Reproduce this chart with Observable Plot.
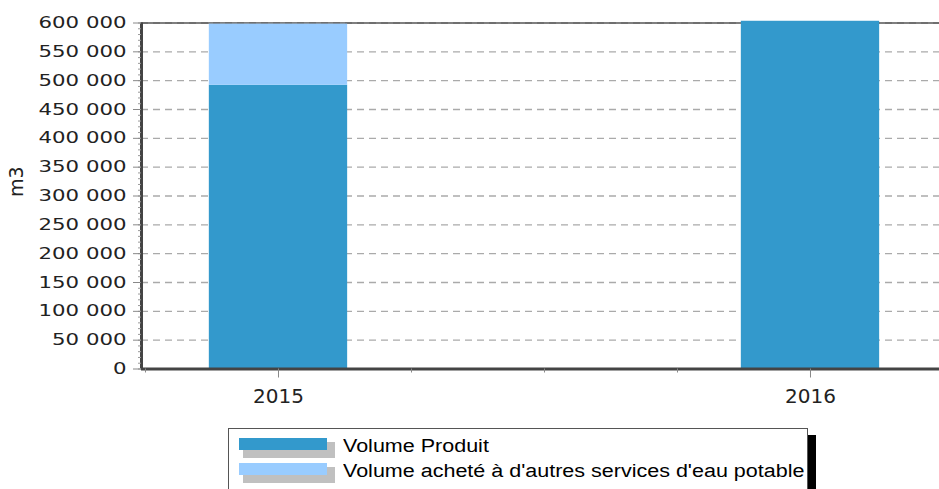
<!DOCTYPE html>
<html>
<head>
<meta charset="utf-8">
<script src="https://cdn.jsdelivr.net/npm/d3@7"></script>
<script src="https://cdn.jsdelivr.net/npm/@observablehq/plot@0.6"></script>
<style>
  body { margin: 0; background: #fff; width: 939px; height: 489px; overflow: hidden; position: relative; font-family: "DejaVu Sans", sans-serif; }
  #chart { position: absolute; left: 0; top: 0; }
  #legend { position: absolute; left: 228px; top: 428px; width: 578px; height: 80px; border: 1px solid #555; background: #fff; box-shadow: 8px 7px 0 #000; overflow: hidden; }
  .sw { position: absolute; width: 88px; height: 12px; }
  .sh { position: absolute; width: 92px; height: 16px; background: #c0c0c0; }
  .lt { position: absolute; font-family: "Liberation Sans", Arial, sans-serif; font-size: 18px; line-height: 18px; white-space: nowrap; transform: scaleX(1.195); transform-origin: 0 0; color: #000; }
</style>
</head>
<body>
<div id="chart"></div>
<div id="legend"></div>
<script>
// ---- data ----
const years = [2015, 2016];
const seriesNames = ["Volume Produit", "Volume acheté à d'autres services d'eau potable"];
const volumeProduit = [492000, 603000];
const volumeAchete = [106000, 0];
const seriesColors = ["#3399cc", "#99ccff"];
const yTicks = [0, 50000, 100000, 150000, 200000, 250000, 300000, 350000, 400000, 450000, 500000, 550000, 600000];
const yMinorTicks = d3.range(0, 600001, 10000);
const xTicks = [2015, 2016];
const xMinorTicks = [2014.75, 2015.25, 2015.5, 2015.75];
const yLabel = "m3";

// scale settings
const xDomain = [2014.7425, 2016.2425];
const barHalf = 0.13;

// stacked rows
const rows = [];
years.forEach((yr, i) => {
  let base = 0;
  [volumeProduit, volumeAchete].forEach((vals, j) => {
    const v = vals[i];
    if (v > 0) rows.push({year: yr, series: seriesNames[j], y1: base, y2: base + v});
    base += v;
  });
});

const fmt = d => d3.format(",")(d).replace(/,/g, " ");

const svg = Plot.plot({
  width: 939,
  height: 415,
  marginLeft: 141,
  marginRight: 0,
  marginTop: 22.5,
  marginBottom: 46.5,
  style: {fontFamily: "DejaVu Sans", color: "#222", background: "#fff", overflow: "visible"},
  x: {type: "linear", domain: xDomain, label: null},
  y: {domain: [0, 600000], label: null},
  color: {domain: seriesNames, range: seriesColors},
  marks: [
    Plot.gridY(yTicks, {stroke: "#aaa", strokeOpacity: 1, strokeWidth: 1.3, strokeDasharray: "7,5"}),
    Plot.ruleY([600000], {stroke: "#555", strokeWidth: 1.5}),
    Plot.rectY(rows, {x1: d => d.year - barHalf, x2: d => d.year + barHalf, y1: "y1", y2: "y2", fill: "series"}),
    Plot.ruleX([xDomain[0]], {stroke: "#444", strokeWidth: 3}),
    Plot.ruleY([0], {stroke: "#444", strokeWidth: 3}),
    Plot.axisY(yMinorTicks, {tickSize: 3, tickFormat: () => "", stroke: "#999", label: null}),
    Plot.axisY(yTicks, {tickSize: 8, tickPadding: 7, tickFormat: fmt, fontSize: 16, stroke: "#888", fill: "#222", label: null}),
    Plot.axisX(xMinorTicks, {tickSize: 4, tickFormat: () => "", stroke: "#888", label: null}),
    Plot.axisX(xTicks, {tickSize: 9, tickPadding: 11, tickFormat: d => `${d}`, fontSize: 20, stroke: "#888", fill: "#222", label: null}),
    Plot.text([yLabel], {text: d => d, frameAnchor: "left", dx: -124.5, dy: 1, rotate: -90, fontSize: 19, fill: "#222"})
  ]
});

document.getElementById("chart").appendChild(svg);

// widen the y tick labels like the reference
d3.select(svg).selectAll('g[aria-label="y-axis tick label"] text').each(function() {
  const t = this.getAttribute("transform");
  if (t) {
    this.setAttribute("transform", t + " scale(1.33,1)");
  } else {
    const x = this.getAttribute("x") || 0;
    this.removeAttribute("x");
    this.setAttribute("transform", `translate(${x},0) scale(1.33,1)`);
  }
});

// legend
const legend = d3.select("#legend");
seriesNames.forEach((name, i) => {
  const top = 9 + i * 25;
  legend.append("div").attr("class", "sh").style("left", "14px").style("top", (top + 4) + "px");
  legend.append("div").attr("class", "sw").style("left", "10px").style("top", top + "px").style("background", seriesColors[i]);
  legend.append("div").attr("class", "lt").style("left", "114px").style("top", (top - 1.2) + "px").text(name);
});
</script>
</body>
</html>
